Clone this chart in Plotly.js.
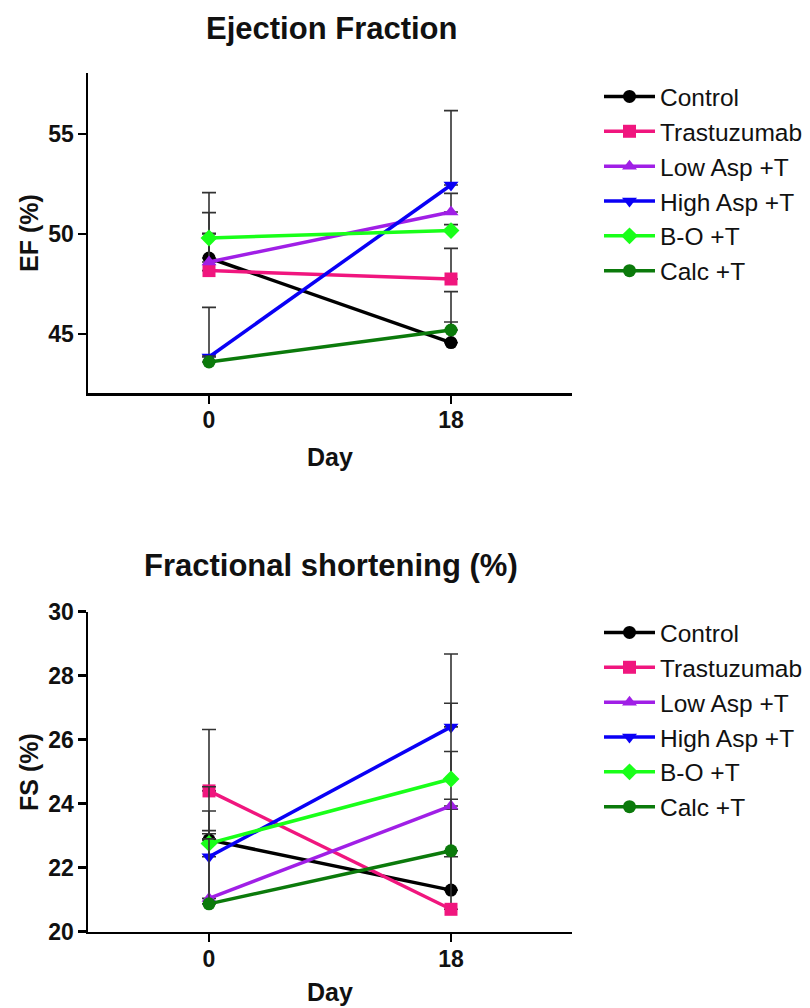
<!DOCTYPE html>
<html>
<head>
<meta charset="utf-8">
<script src="https://cdn.plot.ly/plotly-3.0.1.min.js"></script>
<style>html,body{margin:0;padding:0;background:#fff;}#chart{width:810px;height:1008px;}</style>
</head>
<body>
<div id="chart"></div>
<script>
// ---- data ----
const days = [0, 18];
const groups = ["Control", "Trastuzumab", "Low Asp +T", "High Asp +T", "B-O +T", "Calc +T"];

// Ejection Fraction (%) values at day 0 and day 18
const efControl = [48.8, 44.57];
const efTrastuzumab = [48.17, 47.75];
const efLowAsp = [48.6, 51.1];
const efHighAsp = [43.85, 52.45];
const efBO = [49.8, 50.17];
const efCalc = [43.6, 45.2];
// EF upper error (SEM)
const efErrControl = [3.27, 2.55];
const efErrTrastuzumab = [1.86, 1.53];
const efErrLowAsp = [2.47, 0.93];
const efErrHighAsp = [2.48, 3.72];
const efErrBO = [0.2, 0.3];
const efErrCalc = [0.3, 0.4];

// Fractional shortening (%) values at day 0 and day 18
const fsControl = [22.87, 21.3];
const fsTrastuzumab = [24.4, 20.7];
const fsLowAsp = [21.04, 23.93];
const fsHighAsp = [22.34, 26.4];
const fsBO = [22.76, 24.77];
const fsCalc = [20.87, 22.53];
// FS upper error (SEM)
const fsErrControl = [0.29, 1.04];
const fsErrTrastuzumab = [1.92, 3.13];
const fsErrLowAsp = [3.49, 1.7];
const fsErrHighAsp = [1.43, 2.28];
const fsErrBO = [0.3, 2.37];
const fsErrCalc = [2.03, 1.61];

const efTicks = [45, 50, 55];
const fsTicks = [20, 22, 24, 26, 28, 30];
const dayTicks = ["0", "18"];

// ---- styles ----
const colors = ["#000000", "#F0167E", "#A01FE6", "#0A00F5", "#19FF19", "#0B7A0B"];
const symbols = ["circle", "square", "triangle-up", "triangle-down", "diamond", "circle"];
const FONT = "Liberation Sans, Arial, sans-serif";

const efVals = [efControl, efTrastuzumab, efLowAsp, efHighAsp, efBO, efCalc];
const efErrs = [efErrControl, efErrTrastuzumab, efErrLowAsp, efErrHighAsp, efErrBO, efErrCalc];
const fsVals = [fsControl, fsTrastuzumab, fsLowAsp, fsHighAsp, fsBO, fsCalc];
const fsErrs = [fsErrControl, fsErrTrastuzumab, fsErrLowAsp, fsErrHighAsp, fsErrBO, fsErrCalc];

function mk(i, y, err, xa, ya, leg) {
  return {
    x: days, y: y, name: groups[i], type: "scatter", mode: "lines+markers",
    xaxis: xa, yaxis: ya, legend: leg, cliponaxis: false,
    line: {color: colors[i], width: 3.5},
    marker: {color: colors[i], symbol: symbols[i], size: 13},
    error_y: {type: "data", symmetric: false, array: err, arrayminus: [0, 0],
              color: "#333333", thickness: 1.6, width: 7}
  };
}

const traces = [];
for (let i = 0; i < groups.length; i++) traces.push(mk(i, efVals[i], efErrs[i], "x", "y", "legend"));
for (let i = 0; i < groups.length; i++) traces.push(mk(i, fsVals[i], fsErrs[i], "x2", "y2", "legend2"));

const W = 810, H = 1008;
const px = v => v / W;
const py = v => 1 - v / H;

const xCommon = {
  range: [-9, 27], tickvals: days, ticktext: dayTicks, showgrid: false, zeroline: false,
  showline: true, linecolor: "#000", linewidth: 2.5, ticks: "outside", ticklen: 8,
  tickwidth: 2.5, tickcolor: "#000", ticklabelstandoff: -3,
  tickfont: {family: FONT, size: 23, color: "#111", weight: "bold"}
};
const yCommon = {
  showgrid: false, zeroline: false, showline: true, linecolor: "#000", linewidth: 2.5,
  ticks: "outside", ticklen: 8, tickwidth: 2.5, tickcolor: "#000", ticklabelstandoff: -1,
  tickfont: {family: FONT, size: 23, color: "#111", weight: "bold"}
};

const legCommon = {
  xanchor: "left", yanchor: "top", bgcolor: "rgba(0,0,0,0)", borderwidth: 0,
  font: {family: FONT, size: 24.5, color: "#111"}, traceorder: "normal", itemwidth: 51
};

const titleFont = {family: FONT, size: 31, color: "#111", weight: "bold"};
const axTitleFont = {family: FONT, size: 25, color: "#111", weight: "bold"};

const layout = {
  width: W, height: H, margin: {l: 0, r: 0, t: 0, b: 0},
  paper_bgcolor: "#fff", plot_bgcolor: "#fff", showlegend: true,
  xaxis: Object.assign({}, xCommon, {domain: [px(88), px(572)], anchor: "y"}),
  yaxis: Object.assign({}, yCommon, {domain: [py(393), py(73)], anchor: "x",
                       range: [42.05, 58.05], tickvals: efTicks}),
  xaxis2: Object.assign({}, xCommon, {domain: [px(88), px(572)], anchor: "y2"}),
  yaxis2: Object.assign({}, yCommon, {domain: [py(931.7), py(611.7)], anchor: "x2",
                        range: [20, 30], tickvals: fsTicks}),
  legend: Object.assign({}, legCommon, {x: px(599), y: py(74)}),
  legend2: Object.assign({}, legCommon, {x: px(599), y: py(610)}),
  annotations: [
    {text: "Ejection Fraction", x: px(331), y: py(28), xref: "paper", yref: "paper",
     showarrow: false, font: titleFont, xanchor: "center", yanchor: "middle"},
    {text: "Fractional shortening (%)", x: px(331), y: py(565), xref: "paper", yref: "paper",
     showarrow: false, font: titleFont, xanchor: "center", yanchor: "middle"},
    {text: "Day", x: px(330), y: py(457), xref: "paper", yref: "paper",
     showarrow: false, font: axTitleFont, xanchor: "center", yanchor: "middle"},
    {text: "Day", x: px(330), y: py(992), xref: "paper", yref: "paper",
     showarrow: false, font: axTitleFont, xanchor: "center", yanchor: "middle"},
    {text: "EF (%)", x: px(29), y: py(233), xref: "paper", yref: "paper", textangle: -90,
     showarrow: false, font: axTitleFont, xanchor: "center", yanchor: "middle"},
    {text: "FS (%)", x: px(29), y: py(772), xref: "paper", yref: "paper", textangle: -90,
     showarrow: false, font: axTitleFont, xanchor: "center", yanchor: "middle"}
  ]
};

Plotly.newPlot("chart", traces, layout, {staticPlot: true, displayModeBar: false});
</script>
</body>
</html>
